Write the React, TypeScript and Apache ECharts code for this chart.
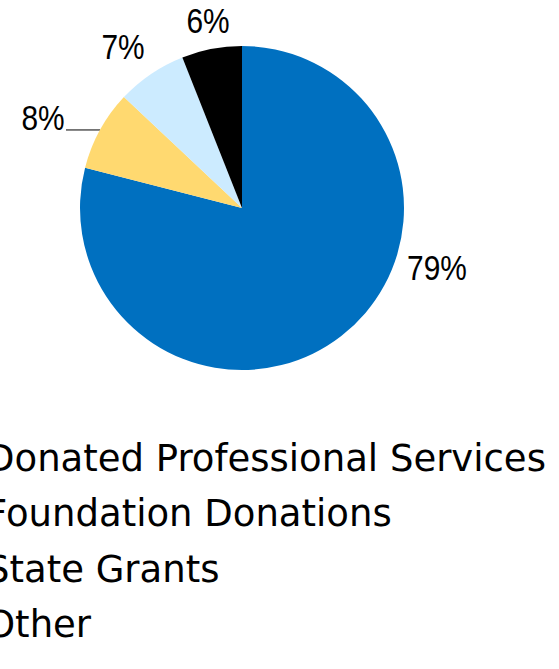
import React, { useEffect, useRef } from "react";
import * as echarts from "echarts";

const categories = [
  "Donated Professional Services",
  "Foundation Donations",
  "State Grants",
  "Other",
];
const values = [79, 8, 7, 6];
const colors = ["#0070C0", "#FFD970", "#CCEBFF", "#000000"];
const percentLabels = ["79%", "8%", "7%", "6%"];

// label anchor positions (text centers) as placed in the reference
const labelPositions: [number, number][] = [
  [437, 267],
  [43, 117],
  [123, 46],
  [208, 20],
];

const CENTER: [number, number] = [242, 208];
const RADIUS = 162;

export default function App() {
  const ref = useRef<HTMLDivElement>(null);
  useEffect(() => {
    if (!ref.current) return;
    const chart = echarts.init(ref.current, null, { renderer: "svg" });

    // leader line for the 8% slice, from the slice's outer edge at its mid angle
    const total = values.reduce((a, b) => a + b, 0);
    const before = values.slice(0, 1).reduce((a, b) => a + b, 0);
    const midFrac = (before + values[1] / 2) / total;
    const ang = midFrac * Math.PI * 2; // clockwise from 12 o'clock
    const sx = CENTER[0] + Math.sin(ang) * RADIUS;
    const sy = CENTER[1] - Math.cos(ang) * RADIUS;

    const labelTexts = percentLabels.map((t, i) => ({
      type: "text",
      x: labelPositions[i][0],
      y: labelPositions[i][1],
      scaleX: 0.83,
      silent: true,
      style: {
        text: t,
        x: 0,
        y: 0,
        align: "center",
        verticalAlign: "middle",
        fontFamily: "'Liberation Sans', Arial, sans-serif",
        fontSize: 36,
        fill: "#000000",
      },
    }));

    chart.setOption({
      animation: false,
      backgroundColor: "#ffffff",
      legend: {
        orient: "vertical",
        left: -49,
        top: 434,
        itemWidth: 25,
        itemHeight: 20,
        itemGap: 17.5,
        icon: "rect",
        data: categories,
        textStyle: {
          fontFamily: "'DejaVu Sans', sans-serif",
          fontSize: 37,
          lineHeight: 38,
          color: "#000000",
        },
      },
      graphic: [
        ...labelTexts,
        {
          type: "line",
          silent: true,
          shape: { x1: sx, y1: sy, x2: 66, y2: sy },
          style: { stroke: "#000000", lineWidth: 1 },
        },
      ],
      series: [
        {
          type: "pie",
          center: CENTER,
          radius: RADIUS,
          startAngle: 90,
          clockwise: true,
          avoidLabelOverlap: false,
          itemStyle: { borderWidth: 0 },
          label: { show: false },
          labelLine: { show: false },
          emphasis: { disabled: true },
          data: categories.map((name, i) => ({
            name,
            value: values[i],
            itemStyle: { color: colors[i] },
          })),
        },
      ],
    });
    return () => chart.dispose();
  }, []);
  return (
    <div
      ref={ref}
      style={{ position: "fixed", left: 0, top: 0, width: 559, height: 669 }}
    />
  );
}
